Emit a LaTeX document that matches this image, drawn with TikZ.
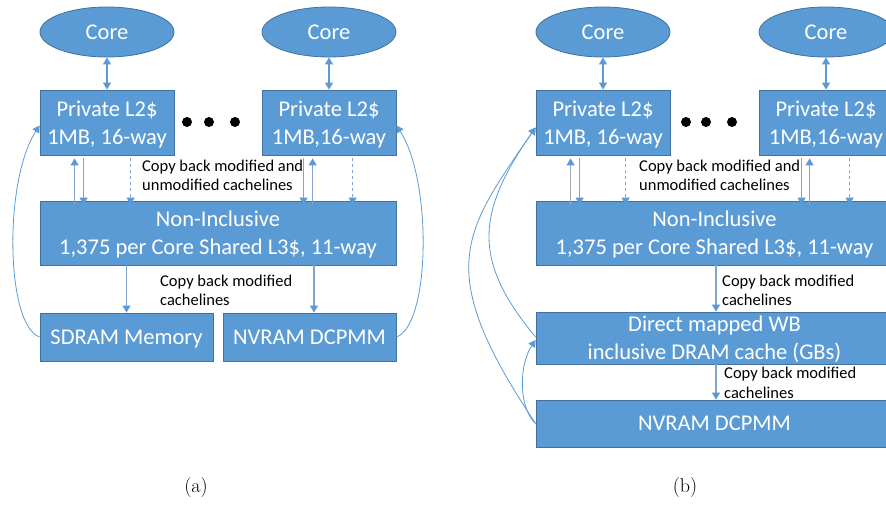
\documentclass[tikz,border=0pt]{standalone}
\usepackage{fontspec}
\newfontfamily\cf{Carlito}
\usetikzlibrary{shapes.geometric,arrows.meta,calc}
\definecolor{bfill}{HTML}{5B9BD5}
\definecolor{bdraw}{HTML}{41719C}
\definecolor{arrc}{HTML}{5B9BD5}
\definecolor{shaftc}{HTML}{7EA4CF}
\definecolor{grayc}{HTML}{A3AAB2}
\begin{document}
\begin{tikzpicture}[x=1pt,y=-1pt,
  box/.style={draw=bdraw, fill=bfill, line width=0.8pt, text=white, font=\cf\fontsize{22.5}{28}\selectfont, align=center, inner sep=0pt, text depth=0pt},
  mline/.style={text depth=-5pt},
  core/.style={ellipse, box, minimum width=134pt, minimum height=50pt},
  tip/.tip={Triangle[width=8pt,length=7pt,color=arrc]},
  link/.style={draw=shaftc, line width=1.1pt, -tip},
  dlink/.style={draw=arrc, line width=1.1pt, tip-tip},
  dlinkd/.style={draw=shaftc, line width=0.7pt, dashed, -tip},
  loopl/.style={draw=arrc, line width=0.8pt, -{Triangle[width=8pt,length=7pt]}},
  lbl/.style={font=\cf\fontsize{16.5}{19.5}\selectfont, align=left, anchor=west, inner sep=0pt},
  dot/.style={circle, fill=black, minimum size=10pt, inner sep=0pt}]
\path[use as bounding box] (0,0) rectangle (886,506);
\clip (0,0) rectangle (886,506);

% ---------------- (a) ----------------
\node[core] (ca1) at (107,32) {Core};
\node[core] (ca2) at (329,32) {Core};
\node[box, mline, minimum width=134pt, minimum height=65pt] (l2a1) at (107,122.5) {Private L2\$\\1MB, 16-way};
\node[box, mline, minimum width=134pt, minimum height=65pt] (l2a2) at (329,122.5) {Private L2\$\\1MB,16-way};
\node[dot] (da1) at (187,122) {};
\node[dot] (da2) at (209,122) {};
\node[dot] (da3) at (235,122) {};
\node[box, mline, minimum width=356pt, minimum height=64pt] (l3a) at (218,233) {Non-Inclusive\\1,375 per Core Shared L3\$, 11-way};
\node[box, minimum width=173pt, minimum height=48pt] (sda) at (126.5,337) {SDRAM Memory};
\node[box, minimum width=173pt, minimum height=48pt] (nva) at (309.5,337) {NVRAM DCPMM};

\draw[dlink] (ca1) -- (l2a1);
\draw[dlink] (ca2) -- (l2a2);

\draw[link] ([xshift=35pt,yshift=-4pt]l2a1.south west |- l3a.north) -- ([xshift=35pt,yshift=-3pt]l2a1.south west);
\draw[link] ([xshift=44pt,yshift=-3pt]l2a1.south west) -- ([xshift=44pt,yshift=-4pt]l2a1.south west |- l3a.north);
\draw[dlinkd] ([xshift=91pt,yshift=-3pt]l2a1.south west) -- ([xshift=91pt,yshift=-4pt]l2a1.south west |- l3a.north);
\draw[link] ([xshift=42pt,yshift=-3pt]l2a2.south west) -- ([xshift=42pt,yshift=-4pt]l2a2.south west |- l3a.north);
\draw[link] ([xshift=51pt,yshift=-4pt]l2a2.south west |- l3a.north) -- ([xshift=51pt,yshift=-3pt]l2a2.south west);
\draw[dlinkd] ([xshift=91pt,yshift=-3pt]l2a2.south west) -- ([xshift=91pt,yshift=-4pt]l2a2.south west |- l3a.north);
\node[lbl] (la1) at (142,175.5) {Copy back modified and\\unmodified cachelines};

\draw[link] (sda.north |- l3a.south) -- (sda.north);
\draw[link] ([xshift=4.5pt]nva.north |- l3a.south) -- ([xshift=4.5pt]nva.north);
\node[lbl] (la2) at (160,290.5) {Copy back modified\\cachelines};

\draw[loopl] (sda.west) .. controls +(-34,-12) and +(-36,55) .. ([yshift=-3pt]l2a1.west);
\draw[loopl] (nva.east) .. controls +(34,-12) and +(36,55) .. ([yshift=-3pt]l2a2.east);

\node[font=\fontsize{20}{24}\selectfont] (capa) at (196,488) {(a)};

% ---------------- (b) ----------------
\node[core] (cb1) at (603,32) {Core};
\node[core] (cb2) at (826,32) {Core};
\node[box, mline, minimum width=134pt, minimum height=65pt] (l2b1) at (603,122.5) {Private L2\$\\1MB, 16-way};
\node[box, mline, minimum width=134pt, minimum height=65pt] (l2b2) at (826,122.5) {Private L2\$\\1MB,16-way};
\node[dot] (db1) at (686,122) {};
\node[dot] (db2) at (706,122) {};
\node[dot] (db3) at (732,122) {};
\node[box, mline, minimum width=357pt, minimum height=64pt] (l3b) at (714.5,233) {Non-Inclusive\\1,375 per Core Shared L3\$, 11-way};
\node[box, mline, minimum width=357pt, minimum height=52pt] (drb) at (714.5,338) {Direct mapped WB\\inclusive DRAM cache (GBs)};
\node[box, minimum width=357pt, minimum height=47pt] (nvb) at (714.5,423.5) {NVRAM DCPMM};

\draw[dlink] (cb1) -- (l2b1);
\draw[dlink] (cb2) -- (l2b2);

\draw[link, draw=grayc] ([xshift=35pt,yshift=-4pt]l2b1.south west |- l3b.north) -- ([xshift=35pt,yshift=-3pt]l2b1.south west);
\draw[link] ([xshift=44pt,yshift=-3pt]l2b1.south west) -- ([xshift=44pt,yshift=-4pt]l2b1.south west |- l3b.north);
\draw[dlinkd] ([xshift=90pt,yshift=-3pt]l2b1.south west) -- ([xshift=90pt,yshift=-4pt]l2b1.south west |- l3b.north);
\draw[link] ([xshift=43pt,yshift=-3pt]l2b2.south west) -- ([xshift=43pt,yshift=-4pt]l2b2.south west |- l3b.north);
\draw[link] ([xshift=51pt,yshift=-4pt]l2b2.south west |- l3b.north) -- ([xshift=51pt,yshift=-3pt]l2b2.south west);
\draw[dlinkd] ([xshift=91pt,yshift=-3pt]l2b2.south west) -- ([xshift=91pt,yshift=-4pt]l2b2.south west |- l3b.north);
\node[lbl] (lb1) at (639,175.5) {Copy back modified and\\unmodified cachelines};

\draw[link] ([xshift=1.5pt]l3b.south) -- ([xshift=1.5pt]drb.north);
\node[lbl] (lb2) at (722,290.5) {Copy back modified\\cachelines};
\draw[link] ([xshift=1.5pt]drb.south) -- ([xshift=1.5pt]nvb.north);
\node[lbl] (lb3) at (724,383) {Copy back modified\\cachelines};

\draw[loopl] (nvb.west) .. controls +(-17,-15) and +(-17,25) .. ([yshift=-2pt]drb.west);
\draw[loopl] (nvb.west) .. controls +(-103,-154) and +(-73,106) .. ([yshift=-5pt]l2b1.west);
\draw[loopl] ([yshift=1pt]drb.west) .. controls +(-64,-77) and +(-59,85) .. ([yshift=-5pt]l2b1.west);

\node[font=\fontsize{20}{24}\selectfont] (capb) at (685,488) {(b)};
\end{tikzpicture}
\end{document}
